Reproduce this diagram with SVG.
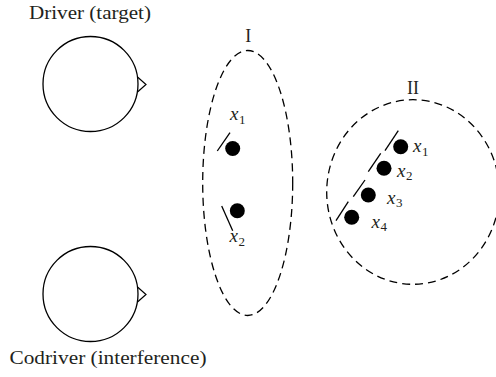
<svg xmlns="http://www.w3.org/2000/svg" width="496" height="377" viewBox="0 0 496 377">
<style>
.t{font-family:"Liberation Serif","Times New Roman",serif;font-size:18px;fill:#231f20}
.v{font-family:"Liberation Serif","Times New Roman",serif;font-size:19px;font-style:italic;fill:#231f20}
.s{font-size:13px;font-style:normal}
.head{fill:#fff;stroke:#000;stroke-width:1.3}
.nose{fill:none;stroke:#000;stroke-width:1.2;stroke-linejoin:miter}
.zone{fill:none;stroke:#000;stroke-width:1.3;stroke-dasharray:8 5}
.mic{fill:#000}
.bar{stroke:#000;stroke-width:1.3}
</style>
<rect width="496" height="377" fill="#fff"/>
<g id="driver">
<circle class="head" cx="90.5" cy="84" r="47.5"/>
<polyline class="nose" points="137.5,77 146,84.5 137.5,92"/>
<text class="t" x="29" y="18.5" textLength="122" lengthAdjust="spacingAndGlyphs">Driver (target)</text>
</g>
<g id="codriver">
<circle class="head" cx="90.5" cy="294" r="47.5"/>
<polyline class="nose" points="137.5,287 146,294.5 137.5,302"/>
<text class="t" x="9.5" y="364" textLength="197" lengthAdjust="spacingAndGlyphs">Codriver (interference)</text>
</g>
<g id="array-I">
<ellipse class="zone" cx="247.7" cy="183" rx="45" ry="132.5"/>
<text class="t" x="248.3" y="42" text-anchor="middle">I</text>
<line class="bar" x1="217.3" y1="151" x2="230" y2="132.7"/>
<circle class="mic" cx="232.7" cy="148.5" r="7.5"/>
<text class="v" x="230" y="120">x<tspan class="s" dx="0.5" dy="3.5">1</tspan></text>
<line class="bar" x1="221.7" y1="206" x2="232.7" y2="230.7"/>
<circle class="mic" cx="237.3" cy="210.7" r="7.5"/>
<text class="v" x="229.5" y="242">x<tspan class="s" dx="0.5" dy="3.5">2</tspan></text>
</g>
<g id="array-II">
<ellipse class="zone" cx="413" cy="192" rx="86.3" ry="92.3"/>
<text class="t" x="413" y="94" text-anchor="middle">II</text>
<line class="bar" x1="385" y1="150.7" x2="398.3" y2="130.7"/>
<line class="bar" x1="368.3" y1="171.7" x2="380.7" y2="153.3"/>
<line class="bar" x1="353.3" y1="196.7" x2="365" y2="180"/>
<line class="bar" x1="336" y1="220.7" x2="348.3" y2="201.7"/>
<circle class="mic" cx="400.7" cy="146.7" r="7.5"/>
<circle class="mic" cx="384" cy="168.3" r="7.5"/>
<circle class="mic" cx="368.3" cy="195" r="7.5"/>
<circle class="mic" cx="351.7" cy="217.3" r="7.5"/>
<text class="v" x="413" y="152">x<tspan class="s" dx="0.5" dy="3.5">1</tspan></text>
<text class="v" x="397" y="176.5">x<tspan class="s" dx="0.5" dy="3.5">2</tspan></text>
<text class="v" x="387" y="203.5">x<tspan class="s" dx="0.5" dy="3.5">3</tspan></text>
<text class="v" x="371.5" y="227.5">x<tspan class="s" dx="0.5" dy="3.5">4</tspan></text>
</g>
<g id="connectors"></g>
</svg>
